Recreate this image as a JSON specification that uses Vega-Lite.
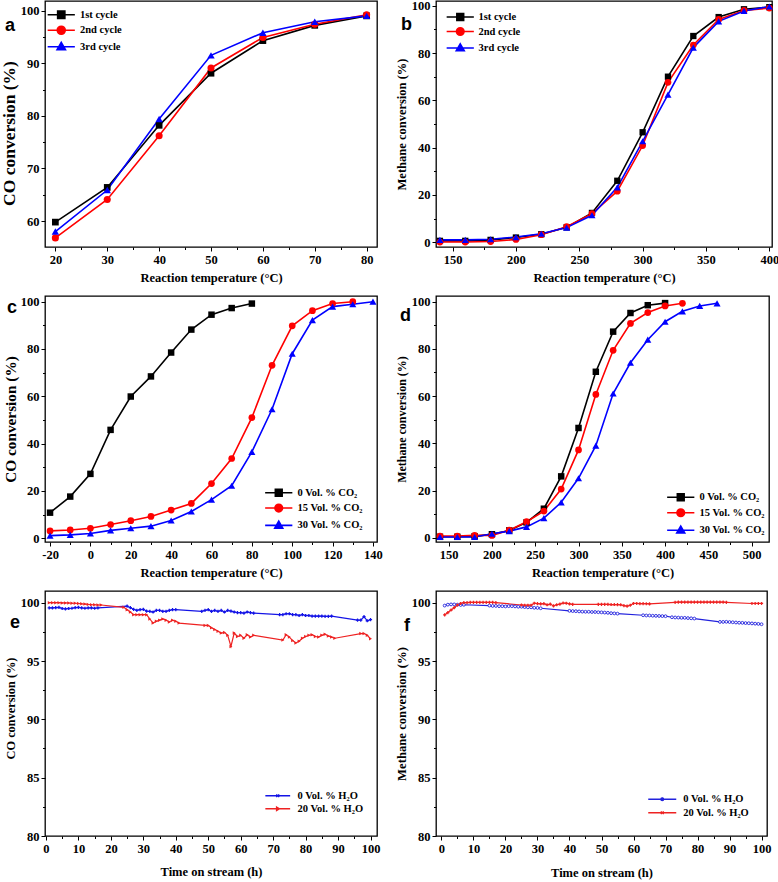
{
"$schema": "https://vega.github.io/schema/vega-lite/v6.json",
"padding": {"left": 0, "top": -1, "right": 0, "bottom": 0},
"background": "white",
"config": {
  "view": {"stroke": "black", "strokeWidth": 1.3},
  "axis": {"domain": false, "grid": false, "labelFont": "Liberation Serif", "labelFontWeight": "bold", "labelFontSize": 12.5, "labelColor": "black", "titleFont": "Liberation Serif", "titleFontWeight": "bold", "titleFontSize": 12.5, "titleColor": "black", "tickColor": "black", "tickWidth": 1, "labelPadding": 2, "labelFlush": false, "labelOverlap": false},
  "axisX": {"titlePadding": 6},
  "axisY": {"titlePadding": 3},
  "legend": {"labelFont": "Liberation Serif", "labelFontWeight": "bold", "labelFontSize": 10.5, "labelColor": "black", "symbolSize": 64, "symbolStrokeWidth": 1.5, "padding": 0, "orient": "none"},
  "title": {"font": "Liberation Sans", "fontSize": 18, "fontWeight": "bold", "color": "black", "anchor": "start", "frame": "group", "offset": 0, "baseline": "alphabetic"}
},
"datasets": {
  "a": [
    {"x":20,"y":59.8,"s":"1st cycle"},{"x":30,"y":66.4,"s":"1st cycle"},{"x":40,"y":78.2,"s":"1st cycle"},{"x":50,"y":88.1,"s":"1st cycle"},{"x":60,"y":94.3,"s":"1st cycle"},{"x":70,"y":97.2,"s":"1st cycle"},{"x":80,"y":99.0,"s":"1st cycle"},
    {"x":20,"y":56.8,"s":"2nd cycle"},{"x":30,"y":64.1,"s":"2nd cycle"},{"x":40,"y":76.2,"s":"2nd cycle"},{"x":50,"y":89.1,"s":"2nd cycle"},{"x":60,"y":94.9,"s":"2nd cycle"},{"x":70,"y":97.4,"s":"2nd cycle"},{"x":80,"y":99.2,"s":"2nd cycle"},
    {"x":20,"y":58.0,"s":"3rd cycle"},{"x":30,"y":65.9,"s":"3rd cycle"},{"x":40,"y":79.4,"s":"3rd cycle"},{"x":50,"y":91.5,"s":"3rd cycle"},{"x":60,"y":95.8,"s":"3rd cycle"},{"x":70,"y":97.9,"s":"3rd cycle"},{"x":80,"y":99.0,"s":"3rd cycle"}
  ],
  "b": [
    {"x":140,"y":0.6,"s":"1st cycle"},{"x":160,"y":0.6,"s":"1st cycle"},{"x":180,"y":1.0,"s":"1st cycle"},{"x":200,"y":2.0,"s":"1st cycle"},{"x":220,"y":3.4,"s":"1st cycle"},{"x":240,"y":6.3,"s":"1st cycle"},{"x":260,"y":12.4,"s":"1st cycle"},{"x":280,"y":26.0,"s":"1st cycle"},{"x":300,"y":46.5,"s":"1st cycle"},{"x":320,"y":70.0,"s":"1st cycle"},{"x":340,"y":87.2,"s":"1st cycle"},{"x":360,"y":95.2,"s":"1st cycle"},{"x":380,"y":98.5,"s":"1st cycle"},{"x":400,"y":99.4,"s":"1st cycle"},
    {"x":140,"y":0.1,"s":"2nd cycle"},{"x":160,"y":0.1,"s":"2nd cycle"},{"x":180,"y":0.3,"s":"2nd cycle"},{"x":200,"y":1.2,"s":"2nd cycle"},{"x":220,"y":3.2,"s":"2nd cycle"},{"x":240,"y":6.6,"s":"2nd cycle"},{"x":260,"y":12.1,"s":"2nd cycle"},{"x":280,"y":21.6,"s":"2nd cycle"},{"x":300,"y":40.9,"s":"2nd cycle"},{"x":320,"y":67.6,"s":"2nd cycle"},{"x":340,"y":83.4,"s":"2nd cycle"},{"x":360,"y":94.2,"s":"2nd cycle"},{"x":380,"y":98.0,"s":"2nd cycle"},{"x":400,"y":99.0,"s":"2nd cycle"},
    {"x":140,"y":1.0,"s":"3rd cycle"},{"x":160,"y":1.0,"s":"3rd cycle"},{"x":180,"y":1.3,"s":"3rd cycle"},{"x":200,"y":2.2,"s":"3rd cycle"},{"x":220,"y":3.6,"s":"3rd cycle"},{"x":240,"y":6.2,"s":"3rd cycle"},{"x":260,"y":11.4,"s":"3rd cycle"},{"x":280,"y":23.2,"s":"3rd cycle"},{"x":300,"y":42.7,"s":"3rd cycle"},{"x":320,"y":62.4,"s":"3rd cycle"},{"x":340,"y":82.3,"s":"3rd cycle"},{"x":360,"y":93.4,"s":"3rd cycle"},{"x":380,"y":97.8,"s":"3rd cycle"},{"x":400,"y":99.7,"s":"3rd cycle"}
  ],
  "c": [
    {"x":-20,"y":10.8,"s":"0 Vol. % CO₂"},{"x":-10,"y":17.6,"s":"0 Vol. % CO₂"},{"x":0,"y":27.2,"s":"0 Vol. % CO₂"},{"x":10,"y":45.8,"s":"0 Vol. % CO₂"},{"x":20,"y":59.9,"s":"0 Vol. % CO₂"},{"x":30,"y":68.4,"s":"0 Vol. % CO₂"},{"x":40,"y":78.5,"s":"0 Vol. % CO₂"},{"x":50,"y":88.2,"s":"0 Vol. % CO₂"},{"x":60,"y":94.5,"s":"0 Vol. % CO₂"},{"x":70,"y":97.3,"s":"0 Vol. % CO₂"},{"x":80,"y":99.2,"s":"0 Vol. % CO₂"},
    {"x":-20,"y":3.1,"s":"15 Vol. % CO₂"},{"x":-10,"y":3.5,"s":"15 Vol. % CO₂"},{"x":0,"y":4.2,"s":"15 Vol. % CO₂"},{"x":10,"y":5.8,"s":"15 Vol. % CO₂"},{"x":20,"y":7.4,"s":"15 Vol. % CO₂"},{"x":30,"y":9.2,"s":"15 Vol. % CO₂"},{"x":40,"y":11.9,"s":"15 Vol. % CO₂"},{"x":50,"y":14.7,"s":"15 Vol. % CO₂"},{"x":60,"y":23.1,"s":"15 Vol. % CO₂"},{"x":70,"y":33.7,"s":"15 Vol. % CO₂"},{"x":80,"y":51.0,"s":"15 Vol. % CO₂"},{"x":90,"y":73.1,"s":"15 Vol. % CO₂"},{"x":100,"y":89.8,"s":"15 Vol. % CO₂"},{"x":110,"y":96.2,"s":"15 Vol. % CO₂"},{"x":120,"y":99.2,"s":"15 Vol. % CO₂"},{"x":130,"y":100.0,"s":"15 Vol. % CO₂"},
    {"x":-20,"y":1.1,"s":"30 Vol. % CO₂"},{"x":-10,"y":1.4,"s":"30 Vol. % CO₂"},{"x":0,"y":2.0,"s":"30 Vol. % CO₂"},{"x":10,"y":3.3,"s":"30 Vol. % CO₂"},{"x":20,"y":4.2,"s":"30 Vol. % CO₂"},{"x":30,"y":5.1,"s":"30 Vol. % CO₂"},{"x":40,"y":7.5,"s":"30 Vol. % CO₂"},{"x":50,"y":11.3,"s":"30 Vol. % CO₂"},{"x":60,"y":16.3,"s":"30 Vol. % CO₂"},{"x":70,"y":22.2,"s":"30 Vol. % CO₂"},{"x":80,"y":36.5,"s":"30 Vol. % CO₂"},{"x":90,"y":54.5,"s":"30 Vol. % CO₂"},{"x":100,"y":78.0,"s":"30 Vol. % CO₂"},{"x":110,"y":92.2,"s":"30 Vol. % CO₂"},{"x":120,"y":97.9,"s":"30 Vol. % CO₂"},{"x":130,"y":98.9,"s":"30 Vol. % CO₂"},{"x":140,"y":100.0,"s":"30 Vol. % CO₂"}
  ],
  "d": [
    {"x":140,"y":0.4,"s":"0 Vol. % CO₂"},{"x":160,"y":0.4,"s":"0 Vol. % CO₂"},{"x":180,"y":0.6,"s":"0 Vol. % CO₂"},{"x":200,"y":1.5,"s":"0 Vol. % CO₂"},{"x":220,"y":3.1,"s":"0 Vol. % CO₂"},{"x":240,"y":6.5,"s":"0 Vol. % CO₂"},{"x":260,"y":12.3,"s":"0 Vol. % CO₂"},{"x":280,"y":26.0,"s":"0 Vol. % CO₂"},{"x":300,"y":46.5,"s":"0 Vol. % CO₂"},{"x":320,"y":70.3,"s":"0 Vol. % CO₂"},{"x":340,"y":87.3,"s":"0 Vol. % CO₂"},{"x":360,"y":95.2,"s":"0 Vol. % CO₂"},{"x":380,"y":98.5,"s":"0 Vol. % CO₂"},{"x":400,"y":99.4,"s":"0 Vol. % CO₂"},
    {"x":140,"y":0.7,"s":"15 Vol. % CO₂"},{"x":160,"y":0.7,"s":"15 Vol. % CO₂"},{"x":180,"y":1.0,"s":"15 Vol. % CO₂"},{"x":200,"y":1.0,"s":"15 Vol. % CO₂"},{"x":220,"y":3.2,"s":"15 Vol. % CO₂"},{"x":240,"y":6.8,"s":"15 Vol. % CO₂"},{"x":260,"y":11.3,"s":"15 Vol. % CO₂"},{"x":280,"y":20.6,"s":"15 Vol. % CO₂"},{"x":300,"y":37.2,"s":"15 Vol. % CO₂"},{"x":320,"y":60.7,"s":"15 Vol. % CO₂"},{"x":340,"y":79.4,"s":"15 Vol. % CO₂"},{"x":360,"y":90.8,"s":"15 Vol. % CO₂"},{"x":380,"y":95.4,"s":"15 Vol. % CO₂"},{"x":400,"y":98.2,"s":"15 Vol. % CO₂"},{"x":420,"y":99.3,"s":"15 Vol. % CO₂"},
    {"x":140,"y":0.3,"s":"30 Vol. % CO₂"},{"x":160,"y":0.3,"s":"30 Vol. % CO₂"},{"x":180,"y":0.3,"s":"30 Vol. % CO₂"},{"x":200,"y":1.7,"s":"30 Vol. % CO₂"},{"x":220,"y":2.8,"s":"30 Vol. % CO₂"},{"x":240,"y":4.6,"s":"30 Vol. % CO₂"},{"x":260,"y":8.3,"s":"30 Vol. % CO₂"},{"x":280,"y":15.0,"s":"30 Vol. % CO₂"},{"x":300,"y":25.2,"s":"30 Vol. % CO₂"},{"x":320,"y":39.0,"s":"30 Vol. % CO₂"},{"x":340,"y":61.1,"s":"30 Vol. % CO₂"},{"x":360,"y":74.1,"s":"30 Vol. % CO₂"},{"x":380,"y":83.9,"s":"30 Vol. % CO₂"},{"x":400,"y":91.5,"s":"30 Vol. % CO₂"},{"x":420,"y":95.9,"s":"30 Vol. % CO₂"},{"x":440,"y":98.2,"s":"30 Vol. % CO₂"},{"x":460,"y":99.3,"s":"30 Vol. % CO₂"}
  ],
  "e": [
    {"x":1,"y":99.55,"s":"0 Vol. % H₂O"},{"x":2,"y":99.55,"s":"0 Vol. % H₂O"},{"x":3,"y":99.58,"s":"0 Vol. % H₂O"},{"x":4,"y":99.6,"s":"0 Vol. % H₂O"},{"x":5,"y":99.5,"s":"0 Vol. % H₂O"},{"x":6,"y":99.47,"s":"0 Vol. % H₂O"},{"x":7,"y":99.5,"s":"0 Vol. % H₂O"},{"x":8,"y":99.52,"s":"0 Vol. % H₂O"},{"x":9,"y":99.58,"s":"0 Vol. % H₂O"},{"x":10,"y":99.6,"s":"0 Vol. % H₂O"},{"x":11,"y":99.56,"s":"0 Vol. % H₂O"},{"x":12,"y":99.52,"s":"0 Vol. % H₂O"},{"x":13,"y":99.55,"s":"0 Vol. % H₂O"},{"x":14,"y":99.55,"s":"0 Vol. % H₂O"},{"x":15,"y":99.52,"s":"0 Vol. % H₂O"},{"x":16,"y":99.55,"s":"0 Vol. % H₂O"},
    {"x":25,"y":99.7,"s":"0 Vol. % H₂O"},{"x":26,"y":99.57,"s":"0 Vol. % H₂O"},{"x":27,"y":99.43,"s":"0 Vol. % H₂O"},{"x":28,"y":99.34,"s":"0 Vol. % H₂O"},{"x":29,"y":99.4,"s":"0 Vol. % H₂O"},{"x":30,"y":99.43,"s":"0 Vol. % H₂O"},{"x":31,"y":99.28,"s":"0 Vol. % H₂O"},{"x":32,"y":99.25,"s":"0 Vol. % H₂O"},{"x":33,"y":99.2,"s":"0 Vol. % H₂O"},{"x":34,"y":99.34,"s":"0 Vol. % H₂O"},{"x":35,"y":99.34,"s":"0 Vol. % H₂O"},{"x":36,"y":99.25,"s":"0 Vol. % H₂O"},{"x":37,"y":99.25,"s":"0 Vol. % H₂O"},{"x":38,"y":99.34,"s":"0 Vol. % H₂O"},{"x":39,"y":99.4,"s":"0 Vol. % H₂O"},{"x":40,"y":99.4,"s":"0 Vol. % H₂O"},
    {"x":48,"y":99.25,"s":"0 Vol. % H₂O"},{"x":49,"y":99.34,"s":"0 Vol. % H₂O"},{"x":50,"y":99.4,"s":"0 Vol. % H₂O"},{"x":51,"y":99.25,"s":"0 Vol. % H₂O"},{"x":52,"y":99.34,"s":"0 Vol. % H₂O"},{"x":53,"y":99.25,"s":"0 Vol. % H₂O"},{"x":54,"y":99.34,"s":"0 Vol. % H₂O"},{"x":55,"y":99.2,"s":"0 Vol. % H₂O"},{"x":56,"y":99.34,"s":"0 Vol. % H₂O"},{"x":57,"y":99.28,"s":"0 Vol. % H₂O"},{"x":58,"y":99.2,"s":"0 Vol. % H₂O"},{"x":59,"y":99.14,"s":"0 Vol. % H₂O"},{"x":60,"y":99.14,"s":"0 Vol. % H₂O"},{"x":61,"y":99.1,"s":"0 Vol. % H₂O"},{"x":62,"y":99.2,"s":"0 Vol. % H₂O"},{"x":63,"y":99.14,"s":"0 Vol. % H₂O"},{"x":64,"y":99.1,"s":"0 Vol. % H₂O"},
    {"x":72,"y":98.97,"s":"0 Vol. % H₂O"},{"x":73,"y":98.97,"s":"0 Vol. % H₂O"},{"x":74,"y":99.05,"s":"0 Vol. % H₂O"},{"x":75,"y":99.05,"s":"0 Vol. % H₂O"},{"x":76,"y":98.97,"s":"0 Vol. % H₂O"},{"x":77,"y":98.97,"s":"0 Vol. % H₂O"},{"x":78,"y":98.9,"s":"0 Vol. % H₂O"},{"x":79,"y":98.97,"s":"0 Vol. % H₂O"},{"x":80,"y":98.9,"s":"0 Vol. % H₂O"},{"x":81,"y":98.9,"s":"0 Vol. % H₂O"},{"x":82,"y":98.85,"s":"0 Vol. % H₂O"},{"x":83,"y":98.85,"s":"0 Vol. % H₂O"},{"x":84,"y":98.85,"s":"0 Vol. % H₂O"},{"x":85,"y":98.85,"s":"0 Vol. % H₂O"},{"x":86,"y":98.83,"s":"0 Vol. % H₂O"},{"x":87,"y":98.83,"s":"0 Vol. % H₂O"},{"x":88,"y":98.85,"s":"0 Vol. % H₂O"},
    {"x":96,"y":98.5,"s":"0 Vol. % H₂O"},{"x":97,"y":98.5,"s":"0 Vol. % H₂O"},{"x":98,"y":98.8,"s":"0 Vol. % H₂O"},{"x":99,"y":98.45,"s":"0 Vol. % H₂O"},{"x":100,"y":98.55,"s":"0 Vol. % H₂O"},
    {"x":1,"y":100.0,"s":"20 Vol. % H₂O"},{"x":2,"y":100.0,"s":"20 Vol. % H₂O"},{"x":3,"y":100.0,"s":"20 Vol. % H₂O"},{"x":4,"y":100.0,"s":"20 Vol. % H₂O"},{"x":5,"y":99.98,"s":"20 Vol. % H₂O"},{"x":6,"y":99.98,"s":"20 Vol. % H₂O"},{"x":7,"y":99.97,"s":"20 Vol. % H₂O"},{"x":8,"y":99.95,"s":"20 Vol. % H₂O"},{"x":9,"y":99.95,"s":"20 Vol. % H₂O"},{"x":10,"y":99.93,"s":"20 Vol. % H₂O"},{"x":11,"y":99.9,"s":"20 Vol. % H₂O"},{"x":12,"y":99.88,"s":"20 Vol. % H₂O"},{"x":13,"y":99.85,"s":"20 Vol. % H₂O"},{"x":14,"y":99.83,"s":"20 Vol. % H₂O"},{"x":15,"y":99.82,"s":"20 Vol. % H₂O"},{"x":16,"y":99.8,"s":"20 Vol. % H₂O"},{"x":17,"y":99.8,"s":"20 Vol. % H₂O"},
    {"x":24,"y":99.6,"s":"20 Vol. % H₂O"},{"x":25,"y":99.4,"s":"20 Vol. % H₂O"},{"x":26,"y":99.2,"s":"20 Vol. % H₂O"},{"x":27,"y":98.97,"s":"20 Vol. % H₂O"},{"x":28,"y":98.97,"s":"20 Vol. % H₂O"},{"x":29,"y":98.97,"s":"20 Vol. % H₂O"},{"x":30,"y":98.97,"s":"20 Vol. % H₂O"},{"x":31,"y":98.97,"s":"20 Vol. % H₂O"},{"x":32,"y":98.6,"s":"20 Vol. % H₂O"},{"x":33,"y":98.25,"s":"20 Vol. % H₂O"},{"x":34,"y":98.4,"s":"20 Vol. % H₂O"},{"x":35,"y":98.5,"s":"20 Vol. % H₂O"},{"x":36,"y":98.6,"s":"20 Vol. % H₂O"},{"x":37,"y":98.5,"s":"20 Vol. % H₂O"},{"x":38,"y":98.35,"s":"20 Vol. % H₂O"},{"x":39,"y":98.5,"s":"20 Vol. % H₂O"},{"x":40,"y":98.4,"s":"20 Vol. % H₂O"},{"x":41,"y":98.25,"s":"20 Vol. % H₂O"},
    {"x":49,"y":98.05,"s":"20 Vol. % H₂O"},{"x":50,"y":98.05,"s":"20 Vol. % H₂O"},{"x":51,"y":97.85,"s":"20 Vol. % H₂O"},{"x":52,"y":97.7,"s":"20 Vol. % H₂O"},{"x":53,"y":97.55,"s":"20 Vol. % H₂O"},{"x":54,"y":97.4,"s":"20 Vol. % H₂O"},{"x":55,"y":97.45,"s":"20 Vol. % H₂O"},{"x":56,"y":97.2,"s":"20 Vol. % H₂O"},{"x":57,"y":96.25,"s":"20 Vol. % H₂O"},{"x":58,"y":97.4,"s":"20 Vol. % H₂O"},{"x":59,"y":97.1,"s":"20 Vol. % H₂O"},{"x":60,"y":97.2,"s":"20 Vol. % H₂O"},{"x":61,"y":96.95,"s":"20 Vol. % H₂O"},{"x":62,"y":97.25,"s":"20 Vol. % H₂O"},{"x":63,"y":97.05,"s":"20 Vol. % H₂O"},{"x":64,"y":97.2,"s":"20 Vol. % H₂O"},
    {"x":73,"y":96.8,"s":"20 Vol. % H₂O"},{"x":74,"y":97.25,"s":"20 Vol. % H₂O"},{"x":75,"y":97.05,"s":"20 Vol. % H₂O"},{"x":76,"y":96.75,"s":"20 Vol. % H₂O"},{"x":77,"y":96.55,"s":"20 Vol. % H₂O"},{"x":78,"y":96.7,"s":"20 Vol. % H₂O"},{"x":79,"y":96.95,"s":"20 Vol. % H₂O"},{"x":80,"y":97.1,"s":"20 Vol. % H₂O"},{"x":81,"y":97.2,"s":"20 Vol. % H₂O"},{"x":82,"y":97.25,"s":"20 Vol. % H₂O"},{"x":83,"y":97.1,"s":"20 Vol. % H₂O"},{"x":84,"y":97.05,"s":"20 Vol. % H₂O"},{"x":85,"y":97.2,"s":"20 Vol. % H₂O"},{"x":86,"y":97.3,"s":"20 Vol. % H₂O"},{"x":87,"y":97.15,"s":"20 Vol. % H₂O"},{"x":88,"y":97.05,"s":"20 Vol. % H₂O"},{"x":89,"y":96.95,"s":"20 Vol. % H₂O"},
    {"x":97,"y":97.35,"s":"20 Vol. % H₂O"},{"x":98,"y":97.35,"s":"20 Vol. % H₂O"},{"x":99,"y":97.2,"s":"20 Vol. % H₂O"},{"x":100,"y":96.9,"s":"20 Vol. % H₂O"}
  ],
  "f": [
    {"x":1,"y":99.75,"s":"0 Vol. % H₂O"},{"x":2,"y":99.83,"s":"0 Vol. % H₂O"},{"x":3,"y":99.85,"s":"0 Vol. % H₂O"},{"x":4,"y":99.85,"s":"0 Vol. % H₂O"},{"x":5,"y":99.83,"s":"0 Vol. % H₂O"},{"x":6,"y":99.8,"s":"0 Vol. % H₂O"},{"x":7,"y":99.82,"s":"0 Vol. % H₂O"},
    {"x":15,"y":99.75,"s":"0 Vol. % H₂O"},{"x":16,"y":99.72,"s":"0 Vol. % H₂O"},{"x":17,"y":99.72,"s":"0 Vol. % H₂O"},{"x":18,"y":99.7,"s":"0 Vol. % H₂O"},{"x":19,"y":99.7,"s":"0 Vol. % H₂O"},{"x":20,"y":99.68,"s":"0 Vol. % H₂O"},{"x":21,"y":99.7,"s":"0 Vol. % H₂O"},{"x":22,"y":99.7,"s":"0 Vol. % H₂O"},{"x":23,"y":99.68,"s":"0 Vol. % H₂O"},{"x":24,"y":99.65,"s":"0 Vol. % H₂O"},{"x":25,"y":99.65,"s":"0 Vol. % H₂O"},{"x":26,"y":99.62,"s":"0 Vol. % H₂O"},{"x":27,"y":99.6,"s":"0 Vol. % H₂O"},{"x":28,"y":99.6,"s":"0 Vol. % H₂O"},{"x":29,"y":99.56,"s":"0 Vol. % H₂O"},{"x":30,"y":99.55,"s":"0 Vol. % H₂O"},{"x":31,"y":99.52,"s":"0 Vol. % H₂O"},
    {"x":40,"y":99.3,"s":"0 Vol. % H₂O"},{"x":41,"y":99.28,"s":"0 Vol. % H₂O"},{"x":42,"y":99.27,"s":"0 Vol. % H₂O"},{"x":43,"y":99.25,"s":"0 Vol. % H₂O"},{"x":44,"y":99.23,"s":"0 Vol. % H₂O"},{"x":45,"y":99.22,"s":"0 Vol. % H₂O"},{"x":46,"y":99.22,"s":"0 Vol. % H₂O"},{"x":47,"y":99.2,"s":"0 Vol. % H₂O"},{"x":48,"y":99.2,"s":"0 Vol. % H₂O"},{"x":49,"y":99.18,"s":"0 Vol. % H₂O"},{"x":50,"y":99.17,"s":"0 Vol. % H₂O"},{"x":51,"y":99.15,"s":"0 Vol. % H₂O"},{"x":52,"y":99.13,"s":"0 Vol. % H₂O"},{"x":53,"y":99.1,"s":"0 Vol. % H₂O"},{"x":54,"y":99.08,"s":"0 Vol. % H₂O"},{"x":55,"y":99.06,"s":"0 Vol. % H₂O"},
    {"x":63,"y":98.92,"s":"0 Vol. % H₂O"},{"x":64,"y":98.9,"s":"0 Vol. % H₂O"},{"x":65,"y":98.9,"s":"0 Vol. % H₂O"},{"x":66,"y":98.88,"s":"0 Vol. % H₂O"},{"x":67,"y":98.87,"s":"0 Vol. % H₂O"},{"x":68,"y":98.86,"s":"0 Vol. % H₂O"},{"x":69,"y":98.85,"s":"0 Vol. % H₂O"},{"x":70,"y":98.84,"s":"0 Vol. % H₂O"},
    {"x":72,"y":98.75,"s":"0 Vol. % H₂O"},{"x":73,"y":98.73,"s":"0 Vol. % H₂O"},{"x":74,"y":98.72,"s":"0 Vol. % H₂O"},{"x":75,"y":98.7,"s":"0 Vol. % H₂O"},{"x":76,"y":98.7,"s":"0 Vol. % H₂O"},{"x":77,"y":98.68,"s":"0 Vol. % H₂O"},{"x":78,"y":98.66,"s":"0 Vol. % H₂O"},{"x":79,"y":98.64,"s":"0 Vol. % H₂O"},
    {"x":87,"y":98.35,"s":"0 Vol. % H₂O"},{"x":88,"y":98.35,"s":"0 Vol. % H₂O"},{"x":89,"y":98.36,"s":"0 Vol. % H₂O"},{"x":90,"y":98.34,"s":"0 Vol. % H₂O"},{"x":91,"y":98.32,"s":"0 Vol. % H₂O"},{"x":92,"y":98.3,"s":"0 Vol. % H₂O"},{"x":93,"y":98.28,"s":"0 Vol. % H₂O"},{"x":94,"y":98.27,"s":"0 Vol. % H₂O"},{"x":95,"y":98.25,"s":"0 Vol. % H₂O"},{"x":96,"y":98.24,"s":"0 Vol. % H₂O"},{"x":97,"y":98.22,"s":"0 Vol. % H₂O"},{"x":98,"y":98.2,"s":"0 Vol. % H₂O"},{"x":99,"y":98.18,"s":"0 Vol. % H₂O"},{"x":100,"y":98.15,"s":"0 Vol. % H₂O"},
    {"x":1,"y":98.95,"s":"20 Vol. % H₂O"},{"x":2,"y":99.15,"s":"20 Vol. % H₂O"},{"x":3,"y":99.37,"s":"20 Vol. % H₂O"},{"x":4,"y":99.57,"s":"20 Vol. % H₂O"},{"x":5,"y":99.8,"s":"20 Vol. % H₂O"},{"x":6,"y":99.93,"s":"20 Vol. % H₂O"},{"x":7,"y":100.0,"s":"20 Vol. % H₂O"},{"x":8,"y":100.0,"s":"20 Vol. % H₂O"},{"x":9,"y":100.02,"s":"20 Vol. % H₂O"},{"x":10,"y":100.02,"s":"20 Vol. % H₂O"},{"x":11,"y":100.03,"s":"20 Vol. % H₂O"},{"x":12,"y":100.03,"s":"20 Vol. % H₂O"},{"x":13,"y":100.03,"s":"20 Vol. % H₂O"},{"x":14,"y":100.03,"s":"20 Vol. % H₂O"},{"x":15,"y":100.03,"s":"20 Vol. % H₂O"},{"x":16,"y":100.02,"s":"20 Vol. % H₂O"},{"x":17,"y":100.0,"s":"20 Vol. % H₂O"},
    {"x":25,"y":99.8,"s":"20 Vol. % H₂O"},{"x":26,"y":99.78,"s":"20 Vol. % H₂O"},{"x":27,"y":99.78,"s":"20 Vol. % H₂O"},{"x":28,"y":99.78,"s":"20 Vol. % H₂O"},{"x":29,"y":99.95,"s":"20 Vol. % H₂O"},{"x":30,"y":99.92,"s":"20 Vol. % H₂O"},{"x":31,"y":99.9,"s":"20 Vol. % H₂O"},{"x":32,"y":99.92,"s":"20 Vol. % H₂O"},{"x":33,"y":99.82,"s":"20 Vol. % H₂O"},{"x":34,"y":99.88,"s":"20 Vol. % H₂O"},{"x":35,"y":99.72,"s":"20 Vol. % H₂O"},{"x":36,"y":99.82,"s":"20 Vol. % H₂O"},{"x":37,"y":99.88,"s":"20 Vol. % H₂O"},{"x":38,"y":99.97,"s":"20 Vol. % H₂O"},{"x":39,"y":99.95,"s":"20 Vol. % H₂O"},{"x":40,"y":99.9,"s":"20 Vol. % H₂O"},{"x":41,"y":99.86,"s":"20 Vol. % H₂O"},
    {"x":49,"y":99.85,"s":"20 Vol. % H₂O"},{"x":50,"y":99.85,"s":"20 Vol. % H₂O"},{"x":51,"y":99.85,"s":"20 Vol. % H₂O"},{"x":52,"y":99.85,"s":"20 Vol. % H₂O"},{"x":53,"y":99.84,"s":"20 Vol. % H₂O"},{"x":54,"y":99.84,"s":"20 Vol. % H₂O"},{"x":55,"y":99.83,"s":"20 Vol. % H₂O"},{"x":56,"y":99.82,"s":"20 Vol. % H₂O"},{"x":57,"y":99.75,"s":"20 Vol. % H₂O"},{"x":58,"y":99.7,"s":"20 Vol. % H₂O"},{"x":59,"y":99.78,"s":"20 Vol. % H₂O"},{"x":60,"y":99.93,"s":"20 Vol. % H₂O"},{"x":61,"y":99.93,"s":"20 Vol. % H₂O"},{"x":62,"y":99.92,"s":"20 Vol. % H₂O"},{"x":63,"y":99.92,"s":"20 Vol. % H₂O"},{"x":64,"y":99.91,"s":"20 Vol. % H₂O"},{"x":65,"y":99.9,"s":"20 Vol. % H₂O"},
    {"x":73,"y":100.03,"s":"20 Vol. % H₂O"},{"x":74,"y":100.04,"s":"20 Vol. % H₂O"},{"x":75,"y":100.04,"s":"20 Vol. % H₂O"},{"x":76,"y":100.04,"s":"20 Vol. % H₂O"},{"x":77,"y":100.04,"s":"20 Vol. % H₂O"},{"x":78,"y":100.04,"s":"20 Vol. % H₂O"},{"x":79,"y":100.04,"s":"20 Vol. % H₂O"},{"x":80,"y":100.04,"s":"20 Vol. % H₂O"},{"x":81,"y":100.04,"s":"20 Vol. % H₂O"},{"x":82,"y":100.04,"s":"20 Vol. % H₂O"},{"x":83,"y":100.04,"s":"20 Vol. % H₂O"},{"x":84,"y":100.04,"s":"20 Vol. % H₂O"},{"x":85,"y":100.04,"s":"20 Vol. % H₂O"},{"x":86,"y":100.04,"s":"20 Vol. % H₂O"},{"x":87,"y":100.04,"s":"20 Vol. % H₂O"},{"x":88,"y":100.04,"s":"20 Vol. % H₂O"},{"x":89,"y":100.03,"s":"20 Vol. % H₂O"},
    {"x":97,"y":99.93,"s":"20 Vol. % H₂O"},{"x":98,"y":99.93,"s":"20 Vol. % H₂O"},{"x":99,"y":99.93,"s":"20 Vol. % H₂O"},{"x":100,"y":99.93,"s":"20 Vol. % H₂O"}
  ]
},
"columns": 2,
"spacing": {"row": 49, "column": 59},
"bounds": "flush",
"resolve": {"scale": {"color": "independent"}},
"concat": [
   {"width": 332, "height": 246,
    "title": {"text": "a", "dx": -40, "dy": 38},
    "data": {"name": "a"},
    "encoding": {
     "x": {"field": "x", "type": "quantitative", "scale": {"domain": [18, 82], "nice": false, "zero": false},
       "axis": {"title": "Reaction temperature (°C)", "values": [20,25,30,35,40,45,50,55,60,65,70,75,80], "labelExpr": "datum.value % 10 === 0 ? '' + datum.value : ''", "tickSize": {"condition": {"test": "datum.value % 10 === 0", "value": 4}, "value": 2.5}}},
     "y": {"field": "y", "type": "quantitative", "scale": {"domain": [55.07, 101.83], "nice": false, "zero": false},
       "axis": {"title": "CO conversion (%)", "titleFontSize": 17.5, "titlePadding": 1.5, "titleY": 132, "values": [60,65,70,75,80,85,90,95,100], "labelExpr": "datum.value % 10 === 0 ? '' + datum.value : ''", "tickSize": {"condition": {"test": "datum.value % 10 === 0", "value": 4}, "value": 2.5}}},
     "color": {"field": "s", "type": "nominal", "scale": {"domain": ["1st cycle","2nd cycle","3rd cycle"], "range": ["#000000","#ff0000","#0000ff"]},
       "legend": {"title": null, "legendX": 11, "legendY": 8.5, "labelOffset": 13.5, "rowPadding": 0.5,
         "encode": {"symbols": {"update": {
           "shape": {"signal": "datum.value === '1st cycle' ? 'M-3.4,0H3.4M-0.9,-0.9H0.9V0.9H-0.9Z' : datum.value === '2nd cycle' ? 'M-3.4,0H3.4M1,0A1,1,0,1,1,-1,0A1,1,0,1,1,1,0Z' : 'M-3.4,0H3.4M0,-1.1L1.05,0.75H-1.05Z'"},
           "fill": {"signal": "datum.value === '1st cycle' ? '#000000' : datum.value === '2nd cycle' ? '#ff0000' : '#0000ff'"},
           "stroke": {"signal": "datum.value === '1st cycle' ? '#000000' : datum.value === '2nd cycle' ? '#ff0000' : '#0000ff'"},
           "strokeWidth": {"value": 1.6}, "opacity": {"value": 1}, "fillOpacity": {"value": 1}, "strokeOpacity": {"value": 1}}}}}}
    },
    "layer": [
     {"mark": {"type": "line", "strokeWidth": 1.6}},
     {"transform": [{"filter": "datum.s === '1st cycle'"}], "mark": {"type": "point", "filled": true, "size": 45, "shape": "square", "opacity": 1}},
     {"transform": [{"filter": "datum.s === '2nd cycle'"}], "mark": {"type": "point", "filled": true, "size": 50, "shape": "circle", "opacity": 1}},
     {"transform": [{"filter": "datum.s === '3rd cycle'"}], "mark": {"type": "point", "filled": true, "size": 55, "shape": "triangle-up", "opacity": 1}}
    ]
   },
   {"width": 336, "height": 246,
    "title": {"text": "b", "dx": -35, "dy": 38},
    "data": {"name": "b"},
    "encoding": {
     "x": {"field": "x", "type": "quantitative", "scale": {"domain": [136.9, 402.1], "nice": false, "zero": false},
       "axis": {"title": "Reaction temperature (°C)", "values": [150,175,200,225,250,275,300,325,350,375,400], "labelExpr": "datum.value % 50 === 0 ? '' + datum.value : ''", "tickSize": {"condition": {"test": "datum.value % 50 === 0", "value": 4}, "value": 2.5}}},
     "y": {"field": "y", "type": "quantitative", "scale": {"domain": [-2, 102], "nice": false, "zero": false},
       "axis": {"title": "Methane conversion (%)", "titleFontSize": 12.5, "values": [0,10,20,30,40,50,60,70,80,90,100], "labelExpr": "datum.value % 20 === 0 ? '' + datum.value : ''", "tickSize": {"condition": {"test": "datum.value % 20 === 0", "value": 4}, "value": 2.5}}},
     "color": {"field": "s", "type": "nominal", "scale": {"domain": ["1st cycle","2nd cycle","3rd cycle"], "range": ["#000000","#ff0000","#0000ff"]},
       "legend": {"title": null, "legendX": 19, "legendY": 10.75, "labelOffset": 13, "rowPadding": 0.5,
         "encode": {"symbols": {"update": {
           "shape": {"signal": "datum.value === '1st cycle' ? 'M-3.4,0H3.4M-0.85,-0.85H0.85V0.85H-0.85Z' : datum.value === '2nd cycle' ? 'M-3.4,0H3.4M0.95,0A0.95,0.95,0,1,1,-0.95,0A0.95,0.95,0,1,1,0.95,0Z' : 'M-3.4,0H3.4M0,-1.05L1,0.7H-1Z'"},
           "fill": {"signal": "datum.value === '1st cycle' ? '#000000' : datum.value === '2nd cycle' ? '#ff0000' : '#0000ff'"},
           "stroke": {"signal": "datum.value === '1st cycle' ? '#000000' : datum.value === '2nd cycle' ? '#ff0000' : '#0000ff'"},
           "strokeWidth": {"value": 1.6}, "opacity": {"value": 1}, "fillOpacity": {"value": 1}, "strokeOpacity": {"value": 1}}}}}}
    },
    "layer": [
     {"mark": {"type": "line", "strokeWidth": 1.6}},
     {"transform": [{"filter": "datum.s === '1st cycle'"}], "mark": {"type": "point", "filled": true, "size": 40, "shape": "square", "opacity": 1}},
     {"transform": [{"filter": "datum.s === '2nd cycle'"}], "mark": {"type": "point", "filled": true, "size": 45, "shape": "circle", "opacity": 1}},
     {"transform": [{"filter": "datum.s === '3rd cycle'"}], "mark": {"type": "point", "filled": true, "size": 50, "shape": "triangle-up", "opacity": 1}}
    ]
   },
   {"width": 332, "height": 246,
    "title": {"text": "c", "dx": -38, "dy": 25},
    "data": {"name": "c"},
    "encoding": {
     "x": {"field": "x", "type": "quantitative", "scale": {"domain": [-22.5, 142], "nice": false, "zero": false},
       "axis": {"title": "Reaction temperature (°C)", "values": [-20,-10,0,10,20,30,40,50,60,70,80,90,100,110,120,130,140], "labelExpr": "datum.value % 20 === 0 ? '' + datum.value : ''", "tickSize": {"condition": {"test": "datum.value % 20 === 0", "value": 4}, "value": 2.5}}},
     "y": {"field": "y", "type": "quantitative", "scale": {"domain": [-1.6, 102.4], "nice": false, "zero": false},
       "axis": {"title": "CO conversion (%)", "titleFontSize": 15.3, "titlePadding": 2, "values": [0,10,20,30,40,50,60,70,80,90,100], "labelExpr": "datum.value % 20 === 0 ? '' + datum.value : ''", "tickSize": {"condition": {"test": "datum.value % 20 === 0", "value": 4}, "value": 2.5}}},
     "color": {"field": "s", "type": "nominal", "scale": {"domain": ["0 Vol. % CO₂","15 Vol. % CO₂","30 Vol. % CO₂"], "range": ["#000000","#ff0000","#0000ff"]},
       "legend": {"title": null, "legendX": 228.5, "legendY": 191.5, "labelOffset": 13.5, "rowPadding": 1.3,
         "encode": {"symbols": {"update": {
           "shape": {"signal": "datum.value === '0 Vol. % CO₂' ? 'M-3.4,0H3.4M-0.85,-0.85H0.85V0.85H-0.85Z' : datum.value === '15 Vol. % CO₂' ? 'M-3.4,0H3.4M0.95,0A0.95,0.95,0,1,1,-0.95,0A0.95,0.95,0,1,1,0.95,0Z' : 'M-3.4,0H3.4M0,-1.05L1,0.7H-1Z'"},
           "fill": {"signal": "datum.value === '0 Vol. % CO₂' ? '#000000' : datum.value === '15 Vol. % CO₂' ? '#ff0000' : '#0000ff'"},
           "stroke": {"signal": "datum.value === '0 Vol. % CO₂' ? '#000000' : datum.value === '15 Vol. % CO₂' ? '#ff0000' : '#0000ff'"},
           "strokeWidth": {"value": 1.6}, "opacity": {"value": 1}, "fillOpacity": {"value": 1}, "strokeOpacity": {"value": 1}}}}}}
    },
    "layer": [
     {"mark": {"type": "line", "strokeWidth": 1.6}},
     {"transform": [{"filter": "datum.s === '0 Vol. % CO₂'"}], "mark": {"type": "point", "filled": true, "size": 42, "shape": "square", "opacity": 1}},
     {"transform": [{"filter": "datum.s === '15 Vol. % CO₂'"}], "mark": {"type": "point", "filled": true, "size": 45, "shape": "circle", "opacity": 1}},
     {"transform": [{"filter": "datum.s === '30 Vol. % CO₂'"}], "mark": {"type": "point", "filled": true, "size": 50, "shape": "triangle-up", "opacity": 1}}
    ]
   },
   {"width": 333, "height": 246,
    "title": {"text": "d", "dx": -36, "dy": 33},
    "data": {"name": "d"},
    "encoding": {
     "x": {"field": "x", "type": "quantitative", "scale": {"domain": [135.4, 520], "nice": false, "zero": false},
       "axis": {"title": "Reaction temperature (°C)", "values": [150,175,200,225,250,275,300,325,350,375,400,425,450,475,500], "labelExpr": "datum.value % 50 === 0 ? '' + datum.value : ''", "tickSize": {"condition": {"test": "datum.value % 50 === 0", "value": 4}, "value": 2.5}}},
     "y": {"field": "y", "type": "quantitative", "scale": {"domain": [-1.8, 102.4], "nice": false, "zero": false},
       "axis": {"title": "Methane conversion (%)", "titleFontSize": 12, "values": [0,10,20,30,40,50,60,70,80,90,100], "labelExpr": "datum.value % 20 === 0 ? '' + datum.value : ''", "tickSize": {"condition": {"test": "datum.value % 20 === 0", "value": 4}, "value": 2.5}}},
     "color": {"field": "s", "type": "nominal", "scale": {"domain": ["0 Vol. % CO₂","15 Vol. % CO₂","30 Vol. % CO₂"], "range": ["#000000","#ff0000","#0000ff"]},
       "legend": {"title": null, "legendX": 239.5, "legendY": 196, "labelOffset": 13.5, "rowPadding": 1.5,
         "encode": {"symbols": {"update": {
           "shape": {"signal": "datum.value === '0 Vol. % CO₂' ? 'M-3.4,0H3.4M-0.85,-0.85H0.85V0.85H-0.85Z' : datum.value === '15 Vol. % CO₂' ? 'M-3.4,0H3.4M0.95,0A0.95,0.95,0,1,1,-0.95,0A0.95,0.95,0,1,1,0.95,0Z' : 'M-3.4,0H3.4M0,-1.05L1,0.7H-1Z'"},
           "fill": {"signal": "datum.value === '0 Vol. % CO₂' ? '#000000' : datum.value === '15 Vol. % CO₂' ? '#ff0000' : '#0000ff'"},
           "stroke": {"signal": "datum.value === '0 Vol. % CO₂' ? '#000000' : datum.value === '15 Vol. % CO₂' ? '#ff0000' : '#0000ff'"},
           "strokeWidth": {"value": 1.6}, "opacity": {"value": 1}, "fillOpacity": {"value": 1}, "strokeOpacity": {"value": 1}}}}}}
    },
    "layer": [
     {"mark": {"type": "line", "strokeWidth": 1.6}},
     {"transform": [{"filter": "datum.s === '0 Vol. % CO₂'"}], "mark": {"type": "point", "filled": true, "size": 42, "shape": "square", "opacity": 1}},
     {"transform": [{"filter": "datum.s === '15 Vol. % CO₂'"}], "mark": {"type": "point", "filled": true, "size": 45, "shape": "circle", "opacity": 1}},
     {"transform": [{"filter": "datum.s === '30 Vol. % CO₂'"}], "mark": {"type": "point", "filled": true, "size": 50, "shape": "triangle-up", "opacity": 1}}
    ]
   },
   {"width": 332, "height": 245,
    "title": {"text": "e", "dx": -35, "dy": 45},
    "data": {"name": "e"},
    "encoding": {
     "x": {"field": "x", "type": "quantitative", "scale": {"domain": [-0.3, 102], "nice": false, "zero": false},
       "axis": {"title": "Time on stream (h)", "titlePadding": 11, "values": [0,5,10,15,20,25,30,35,40,45,50,55,60,65,70,75,80,85,90,95,100], "labelExpr": "datum.value % 10 === 0 ? '' + datum.value : ''", "tickSize": {"condition": {"test": "datum.value % 10 === 0", "value": 4}, "value": 2.5}}},
     "y": {"field": "y", "type": "quantitative", "scale": {"domain": [80, 101], "nice": false, "zero": false},
       "axis": {"title": "CO conversion (%)", "titleFontSize": 12.3, "titleY": 117, "values": [80,82.5,85,87.5,90,92.5,95,97.5,100], "labelExpr": "datum.value % 5 === 0 ? '' + datum.value : ''", "tickSize": {"condition": {"test": "datum.value % 5 === 0", "value": 4}, "value": 2.5}}},
     "color": {"field": "s", "type": "nominal", "scale": {"domain": ["0 Vol. % H₂O","20 Vol. % H₂O"], "range": ["#1414e6","#ee2222"]},
       "legend": {"title": null, "legendX": 227.5, "legendY": 199.5, "labelOffset": 14.5, "rowPadding": 2,
         "encode": {"symbols": {"update": {
           "shape": {"signal": "datum.value === '0 Vol. % H₂O' ? 'M-3.1,0H3.1M-0.35,-0.35L0.35,0.35M-0.35,0.35L0.35,-0.35' : 'M-3.1,0H3.1M-0.3,-0.45L0.45,0L-0.3,0.45Z'"},
           "fill": {"signal": "datum.value === '0 Vol. % H₂O' ? '#1414e6' : '#ee2222'"},
           "stroke": {"signal": "datum.value === '0 Vol. % H₂O' ? '#1414e6' : '#ee2222'"},
           "strokeWidth": {"value": 1.3}, "opacity": {"value": 1}, "fillOpacity": {"value": 1}, "strokeOpacity": {"value": 1}}}}}}
    },
    "layer": [
     {"mark": {"type": "line", "strokeWidth": 1.2}},
     {"transform": [{"filter": "datum.s === '0 Vol. % H₂O'"}], "mark": {"type": "point", "filled": true, "size": 10, "shape": "cross", "opacity": 1}},
     {"transform": [{"filter": "datum.s === '20 Vol. % H₂O'"}], "mark": {"type": "point", "filled": true, "size": 12, "shape": "triangle-right", "opacity": 1}}
    ]
   },
   {"width": 331, "height": 245,
    "title": {"text": "f", "dx": -32, "dy": 48},
    "data": {"name": "f"},
    "encoding": {
     "x": {"field": "x", "type": "quantitative", "scale": {"domain": [-1.7, 101.7], "nice": false, "zero": false},
       "axis": {"title": "Time on stream (h)", "titlePadding": 12, "values": [0,5,10,15,20,25,30,35,40,45,50,55,60,65,70,75,80,85,90,95,100], "labelExpr": "datum.value % 10 === 0 ? '' + datum.value : ''", "tickSize": {"condition": {"test": "datum.value % 10 === 0", "value": 4}, "value": 2.5}}},
     "y": {"field": "y", "type": "quantitative", "scale": {"domain": [80, 101], "nice": false, "zero": false},
       "axis": {"title": "Methane conversion (%)", "titleFontSize": 12.7, "values": [80,82.5,85,87.5,90,92.5,95,97.5,100], "labelExpr": "datum.value % 5 === 0 ? '' + datum.value : ''", "tickSize": {"condition": {"test": "datum.value % 5 === 0", "value": 4}, "value": 2.5}}},
     "color": {"field": "s", "type": "nominal", "scale": {"domain": ["0 Vol. % H₂O","20 Vol. % H₂O"], "range": ["#2222dd","#ee2222"]},
       "legend": {"title": null, "legendX": 221, "legendY": 203, "labelOffset": 15.7, "rowPadding": 2.5,
         "encode": {"symbols": {"update": {
           "shape": {"signal": "datum.value === '0 Vol. % H₂O' ? 'M-3.5,0H3.5M0.35,0A0.35,0.35,0,1,1,-0.35,0A0.35,0.35,0,1,1,0.35,0Z' : 'M-3.5,0H3.5M-0.35,-0.35L0.35,0.35M-0.35,0.35L0.35,-0.35'"},
           "fill": {"signal": "datum.value === '0 Vol. % H₂O' ? '#ffffff' : '#ee2222'"},
           "stroke": {"signal": "datum.value === '0 Vol. % H₂O' ? '#2222dd' : '#ee2222'"},
           "strokeWidth": {"value": 1.3}, "opacity": {"value": 1}, "fillOpacity": {"value": 1}, "strokeOpacity": {"value": 1}}}}}}
    },
    "layer": [
     {"mark": {"type": "line", "strokeWidth": 1.2}},
     {"transform": [{"filter": "datum.s === '0 Vol. % H₂O'"}], "mark": {"type": "point", "filled": false, "size": 8, "shape": "circle", "opacity": 1, "strokeWidth": 0.9, "fill": "white"}},
     {"transform": [{"filter": "datum.s === '20 Vol. % H₂O'"}], "mark": {"type": "point", "filled": true, "size": 10, "shape": "cross", "opacity": 1}}
    ]
   }
]
}
